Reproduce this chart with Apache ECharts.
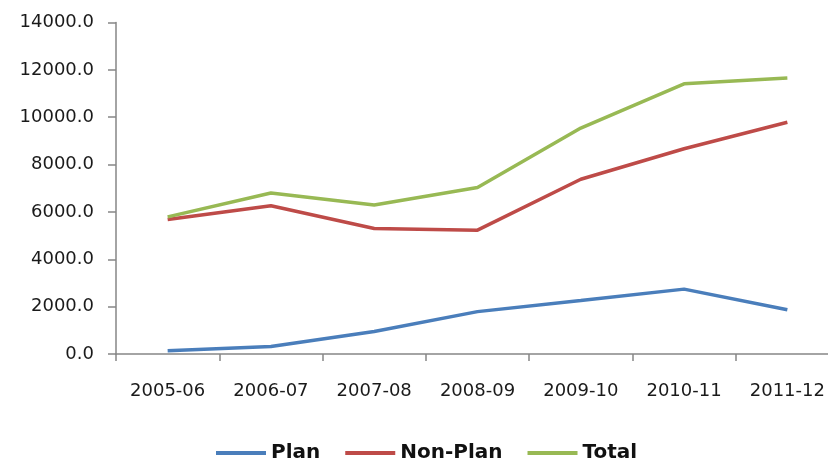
<!DOCTYPE html>
<html>
<head>
<meta charset="utf-8">
<script src="https://cdn.jsdelivr.net/npm/echarts@6/dist/echarts.min.js"></script>
<style>
html,body{margin:0;padding:0;background:#fff;overflow:hidden;width:828px;height:459px;}
#chart{width:840px;height:459px;}
</style>
</head>
<body>
<div id="chart"></div>
<script>
var categories = ['2005-06','2006-07','2007-08','2008-09','2009-10','2010-11','2011-12'];
var planValues = [140, 320, 950, 1790, 2260, 2740, 1870];
var nonPlanValues = [5680, 6260, 5300, 5230, 7380, 8670, 9790];
var totalValues = [5790, 6800, 6290, 7030, 9540, 11410, 11660];
var seriesNames = ['Plan', 'Non-Plan', 'Total'];

var chart = echarts.init(document.getElementById('chart'));
var font = 'DejaVu Sans';
function mk(name, data, color) {
  return {
    name: name, type: 'line', data: data, symbol: 'none', showSymbol: false,
    lineStyle: { color: color, width: 3.5 }, itemStyle: { color: color },
    smooth: false, animation: false
  };
}
chart.setOption({
  animation: false,
  grid: { left: 116, right: 1, top: 22.5, bottom: 105, containLabel: false },
  legend: {
    data: seriesNames, left: 211, top: 438, icon: 'rect',
    itemWidth: 50, itemHeight: 4, itemGap: 25,
    textStyle: { fontFamily: font, fontSize: 20, fontWeight: 'bold', color: '#111' }
  },
  xAxis: {
    type: 'category', data: categories, boundaryGap: true,
    axisLine: { lineStyle: { color: '#868686', width: 1.5 } },
    axisTick: { show: true, alignWithLabel: false, length: 7, lineStyle: { color: '#868686', width: 1.5 } },
    axisLabel: { fontFamily: font, fontSize: 18, color: '#1a1a1a', margin: 28, interval: 0 },
    splitLine: { show: false }
  },
  yAxis: {
    type: 'value', min: 0, max: 14000, interval: 2000,
    axisLine: { show: true, lineStyle: { color: '#868686', width: 1.5 } },
    axisTick: { show: true, length: 8, lineStyle: { color: '#868686', width: 1.5 } },
    axisLabel: { fontFamily: font, fontSize: 18, color: '#1a1a1a', margin: 22,
      formatter: function (v) { return v.toFixed(1); } },
    splitLine: { show: false }
  },
  series: [
    mk(seriesNames[0], planValues, '#4A7EBB'),
    mk(seriesNames[1], nonPlanValues, '#BE4B48'),
    mk(seriesNames[2], totalValues, '#98B954')
  ]
});
</script>
</body>
</html>
